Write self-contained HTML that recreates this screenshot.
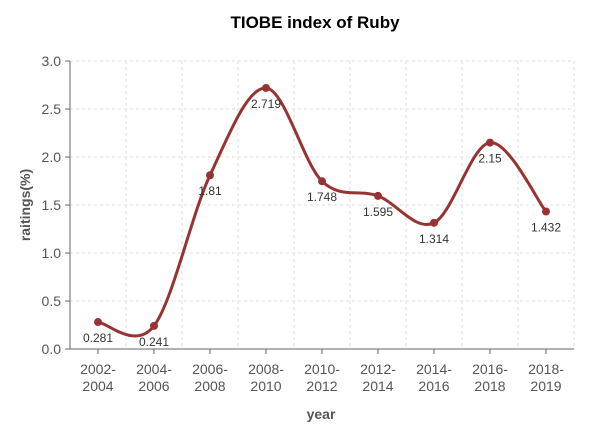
<!DOCTYPE html>
<html><head><meta charset="utf-8"><style>
body{margin:0;background:#fff;font-family:"Liberation Sans",Arial,sans-serif}
svg text{font-family:"Liberation Sans",Arial,sans-serif}
</style></head><body>
<svg id="chart" width="593" height="432" xmlns="http://www.w3.org/2000/svg">
<text x="315" y="28" text-anchor="middle" font-size="17" font-weight="bold" fill="#000">TIOBE index of Ruby</text>
<text x="321" y="419" text-anchor="middle" font-size="14" font-weight="bold" fill="#555">year</text>
<text transform="translate(30,205) rotate(-90)" text-anchor="middle" font-size="14" font-weight="bold" fill="#555">raitings(%)</text>
<g id="grid"></g><g id="axes"></g><g id="series"></g>
</svg>
<script>
const categories=["2002-2004","2004-2006","2006-2008","2008-2010","2010-2012","2012-2014","2014-2016","2016-2018","2018-2019"];
const values=[0.281,0.241,1.81,2.719,1.748,1.595,1.314,2.15,1.432];
const yTicks=[0,0.5,1,1.5,2,2.5,3];
const NS="http://www.w3.org/2000/svg";
const L=70,BW=56,T=61,B=349,YMAX=3;
const x=i=>L+BW*(i+0.5);
const y=v=>B-(v/YMAX)*(B-T);
function mk(tag,attrs,parent,text){const e=document.createElementNS(NS,tag);for(const k in attrs)e.setAttribute(k,attrs[k]);if(text!==undefined)e.textContent=text;parent.appendChild(e);return e;}
const grid=document.getElementById('grid'),axes=document.getElementById('axes'),ser=document.getElementById('series');
const R=L+BW*categories.length;
yTicks.forEach(t=>{
 if(t>0){const g=mk('line',{x1:L,x2:R,y1:y(t),y2:y(t),stroke:'#ddd','stroke-dasharray':'3,3'},grid);
 
 }
 const tk=mk('line',{x1:L-5,x2:L,y1:y(t),y2:y(t),stroke:'#666'},axes);
 
 
 const lb=mk('text',{x:L-9,y:y(t)+5,'text-anchor':'end','font-size':14,fill:'#555'},axes,t.toFixed(1));
 
 
});
for(let i=1;i<=categories.length;i++){
 const g=mk('line',{x1:L+BW*i,x2:L+BW*i,y1:T,y2:B,stroke:'#ddd','stroke-dasharray':'3,3'},grid);
 
 
}
const ya=mk('line',{x1:L,x2:L,y1:T,y2:B,stroke:'#666'},axes);


const xa=mk('line',{x1:L,x2:R,y1:B,y2:B,stroke:'#666'},axes);


categories.forEach((c,i)=>{
 const tk=mk('line',{x1:x(i),x2:x(i),y1:B,y2:B+5,stroke:'#666'},axes);
 
 
 const p=c.split('-');
 const t=mk('text',{x:x(i),y:B+25,'text-anchor':'middle','font-size':14,fill:'#555'},axes);
 
 
 mk('tspan',{x:x(i)},t,p[0]+'-');
 mk('tspan',{x:x(i),dy:17},t,p[1]);
});
const pts=values.map((v,i)=>[x(i),y(v)]);
let d='M'+pts[0][0]+','+pts[0][1];
for(let i=0;i<pts.length-1;i++){
 const p0=pts[Math.max(0,i-1)],p1=pts[i],p2=pts[i+1],p3=pts[Math.min(pts.length-1,i+2)];
 const c1=[p1[0]+(p2[0]-p0[0])/6,p1[1]+(p2[1]-p0[1])/6];
 const c2=[p2[0]-(p3[0]-p1[0])/6,p2[1]-(p3[1]-p1[1])/6];
 d+=`C${c1[0]},${c1[1]} ${c2[0]},${c2[1]} ${p2[0]},${p2[1]}`;
}
const line=mk('path',{d:d,fill:'none',stroke:'#983333','stroke-width':3},ser);


values.forEach((v,i)=>{
 const c=mk('circle',{cx:x(i),cy:y(v),r:4,fill:'#983333'},ser);
 
 
 const t=mk('text',{x:x(i),y:y(v)+20,'text-anchor':'middle','font-size':12,fill:'#333'},ser,String(v));
 
 
});
</script>
</body></html>
